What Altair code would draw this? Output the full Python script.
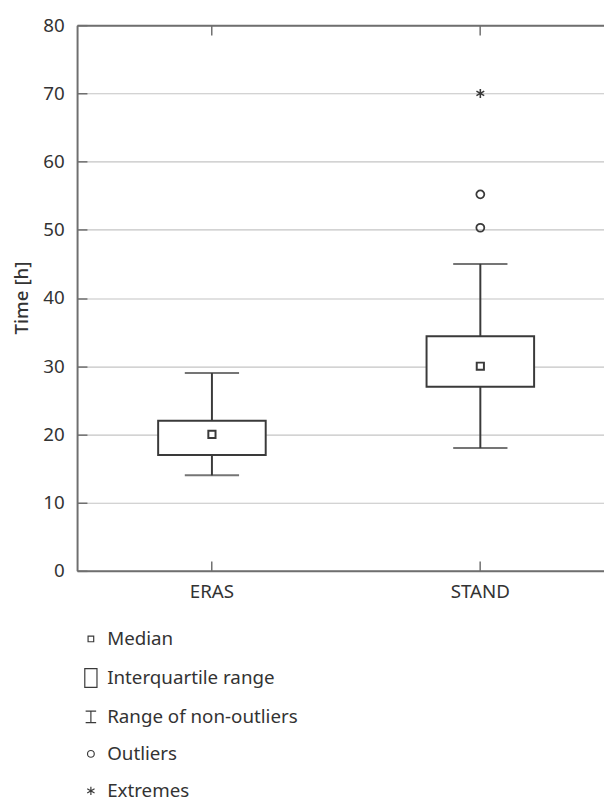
import altair as alt
import pandas as pd

groups = ["ERAS", "STAND"]
q1 = [17.0, 27.0]
q3 = [22.0, 34.4]
medians = [20.0, 30.0]
whisker_lo = [14.0, 18.0]
whisker_hi = [29.0, 45.0]
outlier_group = ["STAND", "STAND"]
outlier_vals = [50.3, 55.2]
extreme_group = ["STAND"]
extreme_vals = [70.0]
y_ticks = [0, 10, 20, 30, 40, 50, 60, 70, 80]
legend_labels = ["Median", "Interquartile range", "Range of non-outliers", "Outliers", "Extremes"]

FONT = "Noto Sans"
INK = "#3a3a3a"
AXIS = "#6f6f6f"

box_df = pd.DataFrame({"group": groups, "q1": q1, "q3": q3, "med": medians,
                       "lo": whisker_lo, "hi": whisker_hi})
pts_df = pd.DataFrame({
    "group": groups + outlier_group + extreme_group,
    "value": medians + outlier_vals + extreme_vals,
    "type": ["Median"] * len(medians) + ["Outliers"] * len(outlier_vals) + ["Extremes"] * len(extreme_vals),
})

shape_paths = [
    "M-0.3,-0.3H0.3V0.3H-0.3Z",
    "M-0.65,-1H0.65V1H-0.65Z",
    "M0,-0.62V0.62M-0.56,-0.62H0.56M-0.56,0.62H0.56",
    "M0.36,0A0.36,0.36,0,1,1,-0.36,0A0.36,0.36,0,1,1,0.36,0Z",
    "M0,-0.45L0,0.45M-0.39,-0.225L0.39,0.225M-0.39,0.225L0.39,-0.225",
]

xscale = alt.Scale(domain=groups, paddingInner=0.5, paddingOuter=0.2316, align=0.545)
yscale = alt.Scale(domain=[0, 80], nice=False, zero=True)

x_main = alt.Axis(orient="bottom", domain=True, domainColor=AXIS, domainWidth=2, ticks=False,
                  labels=True, labelFontSize=19, labelFont=FONT, labelColor="#333333",
                  labelPadding=12, labelAngle=0, grid=False, title=None)
x_in_bottom = alt.Axis(orient="bottom", offset=-10, tickSize=10, tickColor=AXIS, tickWidth=1.5,
                       domain=False, labels=False, grid=False, title=None)
x_top = alt.Axis(orient="top", domain=True, domainColor=AXIS, domainWidth=2, ticks=False,
                 labels=False, grid=False, title=None)
x_in_top = alt.Axis(orient="top", offset=-10, tickSize=10, tickColor=AXIS, tickWidth=1.5,
                    domain=False, labels=False, grid=False, title=None)

y_main = alt.Axis(orient="left", values=y_ticks, domain=True, domainColor=AXIS, domainWidth=2,
                  ticks=False, labels=True, labelFontSize=19, labelFont=FONT, labelColor="#333333",
                  labelPadding=13, grid=True, gridColor="#c4c4c4", gridWidth=1.2,
                  title="Time [h]", titleFont=FONT, titleFontSize=19, titleFontWeight=500,
                  titleColor="#333333", titleX=-56, titleY=276, titleAngle=-90,
                  titleBaseline="middle", titleAlign="center")
y_in = alt.Axis(orient="left", values=y_ticks, offset=-10, tickSize=10, tickColor=AXIS,
                tickWidth=1.5, domain=False, labels=False, grid=False, title=None)

base = alt.Chart(box_df)

whisk_low = base.mark_rule(color=INK, strokeWidth=2).encode(
    x=alt.X("group:N", scale=xscale, axis=x_in_bottom, sort=groups),
    y=alt.Y("lo:Q", scale=yscale, axis=y_in),
    y2="q1:Q",
)
whisk_high = base.mark_rule(color=INK, strokeWidth=2).encode(
    x=alt.X("group:N", scale=xscale, axis=x_top, sort=groups),
    y=alt.Y("q3:Q", scale=yscale, axis=None),
    y2="hi:Q",
)
boxes = base.mark_bar(size=109, fill="white", stroke=INK, strokeWidth=2).encode(
    x=alt.X("group:N", scale=xscale, axis=x_main, sort=groups),
    y=alt.Y("q1:Q", scale=yscale, axis=y_main),
    y2="q3:Q",
)
caps_lo = base.mark_tick(size=55, thickness=2, color=INK).encode(
    x=alt.X("group:N", scale=xscale, axis=x_in_top, sort=groups),
    y=alt.Y("lo:Q", scale=yscale, axis=None),
)
caps_hi = base.mark_tick(size=55, thickness=2, color=INK).encode(
    x=alt.X("group:N", scale=xscale, axis=None, sort=groups),
    y=alt.Y("hi:Q", scale=yscale, axis=None),
)
points = alt.Chart(pts_df).mark_point(filled=False, color=INK, opacity=1).encode(
    x=alt.X("group:N", scale=xscale, axis=None, sort=groups),
    y=alt.Y("value:Q", scale=yscale, axis=None),
    shape=alt.Shape("type:N", scale=alt.Scale(domain=legend_labels, range=shape_paths),
                    legend=alt.Legend(orient="none", legendX=3.5, legendY=611.5, title=None,
                                      symbolSize=361, symbolStrokeWidth=1.2,
                                      symbolStrokeColor=INK, symbolFillColor="transparent",
                                      labelFontSize=19, labelFont=FONT, labelColor="#333333",
                                      rowPadding=16.5, labelOffset=6, padding=0, labelLimit=0)),
    size=alt.Size("type:N", scale=alt.Scale(domain=["Median", "Outliers", "Extremes"],
                                            range=[590, 410, 820]), legend=None),
    strokeWidth=alt.StrokeWidth("type:N", scale=alt.Scale(domain=["Median", "Outliers", "Extremes"],
                                                          range=[2.0, 1.6, 2.6]), legend=None),
)

chart = alt.layer(whisk_low, whisk_high, boxes, caps_lo, caps_hi, points).resolve_axis(
    x="independent", y="independent"
).resolve_scale(x="shared", y="shared").properties(
    width=534, height=553,
    autosize=alt.AutoSizeParams(type="none"),
    padding={"left": 70, "top": 12, "right": 0, "bottom": 240},
).configure_view(stroke=None).configure(font=FONT)

chart.save("out.html", embed_options={"renderer": "svg", "actions": False})
